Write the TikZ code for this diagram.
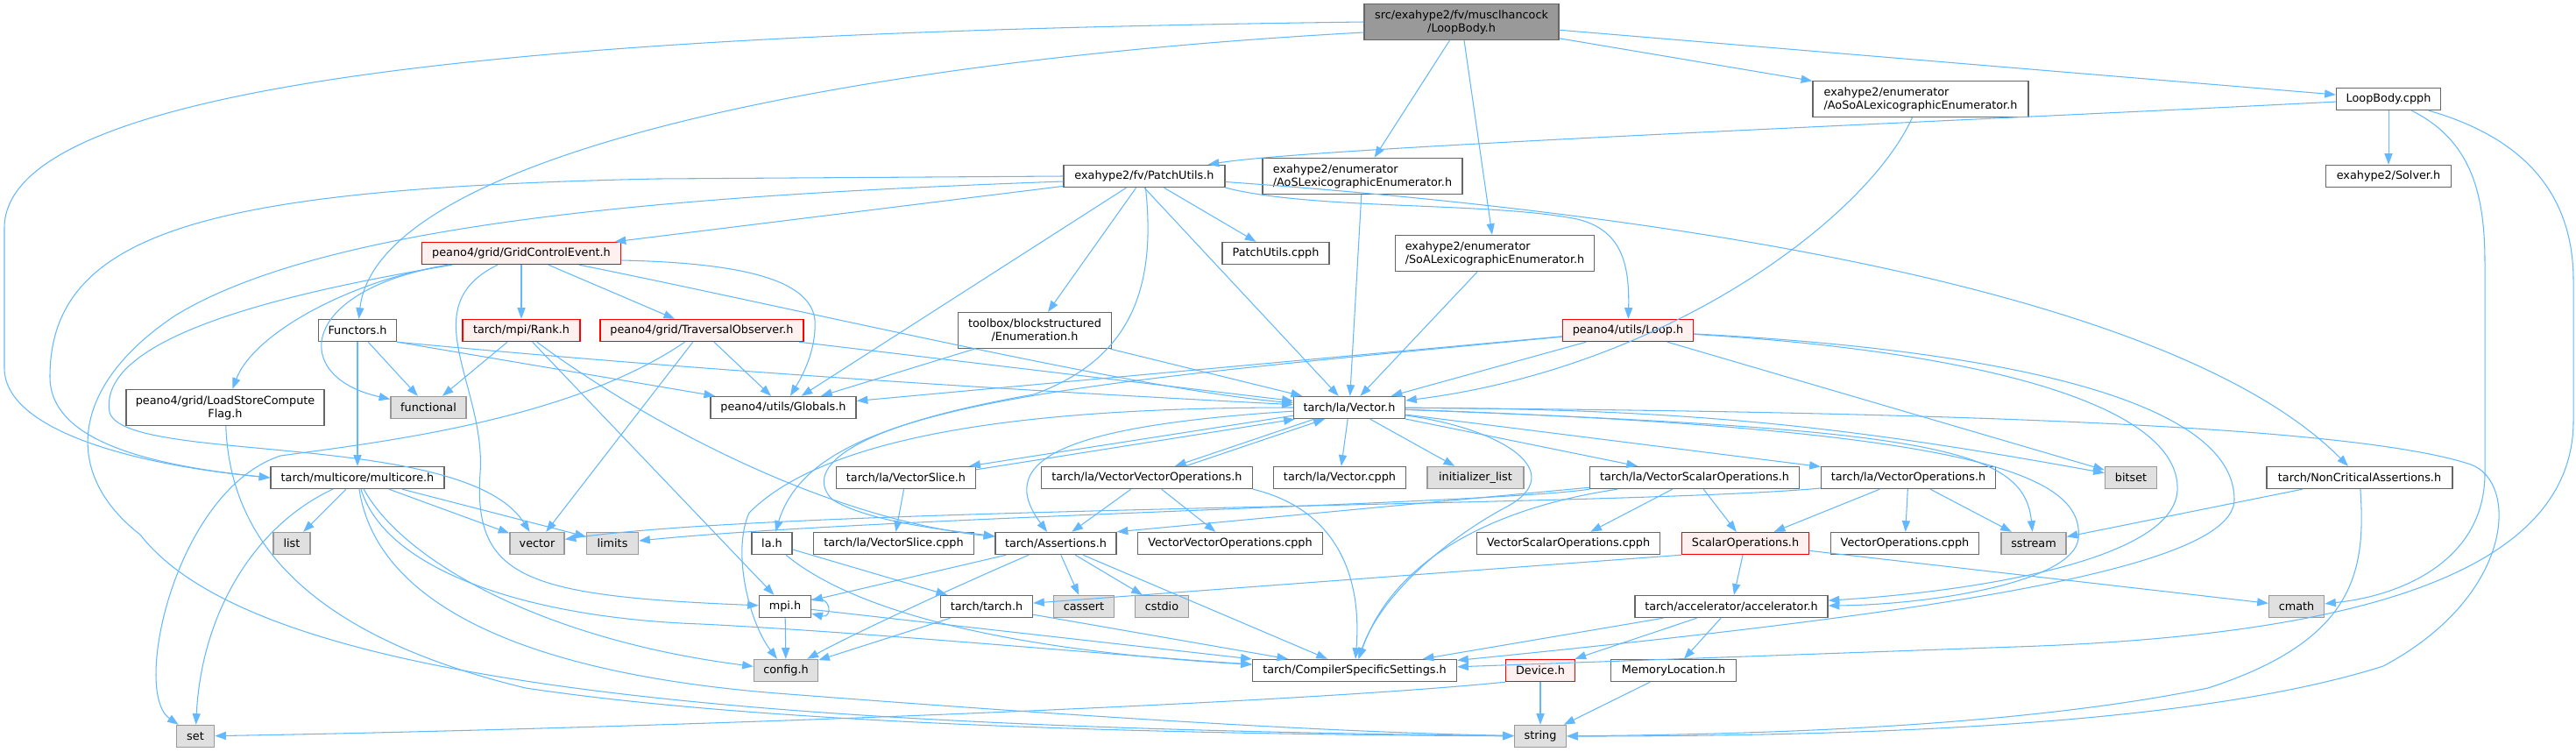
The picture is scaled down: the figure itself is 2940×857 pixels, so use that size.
\documentclass[tikz,border=0pt]{standalone}
\usepackage{fontspec}
\newfontfamily\nodefont{DejaVu Sans}
\usetikzlibrary{arrows.meta}
\definecolor{edgec}{HTML}{63B8FF}
\definecolor{bordc}{HTML}{666666}
\definecolor{extfill}{HTML}{E0E0E0}
\definecolor{extbord}{HTML}{999999}
\definecolor{redfill}{HTML}{FFF0F0}
\definecolor{redbord}{HTML}{FF0000}
\definecolor{rootfill}{HTML}{999999}
\begin{document}
\begin{tikzpicture}[x=0.025cm, y=-0.025cm,
  nbox/.style={draw=bordc, fill=white, line width=1pt, inner sep=0pt, align=center,
    font=\nodefont\fontsize{9.1pt}{10.7pt}\selectfont, minimum height=0.625cm, text=black},
  gbox/.style={nbox, fill=extfill, draw=extbord},
  rbox/.style={nbox, fill=redfill, draw=redbord},
  tall/.style={minimum height=1.025cm},
  wd/.style={minimum width=#1*0.025cm},
  edg/.style={draw=edgec, line width=0.75pt, -{Triangle[length=9pt,width=6.5pt]}}]
\useasboundingbox (0,0) rectangle (2940,857);
% ---------------- nodes ----------------
\node[nbox, wd=222, tall, fill=rootfill] (lb) at (1668,25) {src/exahype2/fv/musclhancock\\/LoopBody.h};
\node[nbox, wd=246, tall, align=left] (aosoa) at (2192,113) {exahype2/enumerator\\/AoSoALexicographicEnumerator.h};
\node[nbox, wd=119] (cpph) at (2726,113) {LoopBody.cpph};
\node[nbox, wd=184] (pu) at (1306,201) {exahype2/fv/PatchUtils.h};
\node[nbox, wd=228, tall, align=left] (aos) at (1555,201) {exahype2/enumerator\\/AoSLexicographicEnumerator.h};
\node[nbox, wd=143] (solver) at (2726,201) {exahype2/Solver.h};
\node[rbox, wd=227] (gce) at (595,289) {peano4/grid/GridControlEvent.h};
\node[nbox, wd=122] (puc) at (1456,289) {PatchUtils.cpph};
\node[nbox, wd=227, tall, align=left] (soa) at (1706,289) {exahype2/enumerator\\/SoALexicographicEnumerator.h};
\node[nbox, wd=89] (func) at (408,377) {Functors.h};
\node[rbox, wd=134] (rank) at (595,377) {tarch/mpi/Rank.h};
\node[rbox, wd=232] (trav) at (801,377) {peano4/grid/TraversalObserver.h};
\node[nbox, wd=175, tall] (enumh) at (1181,377) {toolbox/blockstructured\\/Enumeration.h};
\node[rbox, wd=149] (loop) at (1858,377) {peano4/utils/Loop.h};
\node[nbox, wd=226, tall] (lsc) at (257,465) {peano4/grid/LoadStoreCompute\\Flag.h};
\node[gbox, wd=86] (functional) at (489,465) {functional};
\node[nbox, wd=166] (glob) at (894,465) {peano4/utils/Globals.h};
\node[nbox, wd=127] (vec) at (1540,465) {tarch/la/Vector.h};
\node[nbox, wd=198] (mc) at (408,545) {tarch/multicore/multicore.h};
\node[nbox, wd=159] (vsl) at (1034,545) {tarch/la/VectorSlice.h};
\node[nbox, wd=241] (vvo) at (1309,545) {tarch/la/VectorVectorOperations.h};
\node[nbox, wd=151] (vcpph) at (1529,545) {tarch/la/Vector.cpph};
\node[gbox, wd=110] (initl) at (1684,545) {initializer\_list};
\node[nbox, wd=239] (vso) at (1934,545) {tarch/la/VectorScalarOperations.h};
\node[nbox, wd=199] (vo) at (2178,545) {tarch/la/VectorOperations.h};
\node[gbox, wd=59] (bitset) at (2432,545) {bitset};
\node[nbox, wd=212] (nca) at (2693,545) {tarch/NonCriticalAssertions.h};
\node[gbox, wd=42] (list) at (333,620) {list};
\node[gbox, wd=62] (vector) at (613,620) {vector};
\node[gbox, wd=59] (limits) at (699,620) {limits};
\node[nbox, wd=46] (lah) at (881,620) {la.h};
\node[nbox, wd=183] (vslc) at (1020,620) {tarch/la/VectorSlice.cpph};
\node[nbox, wd=138] (assert) at (1205,620) {tarch/Assertions.h};
\node[nbox, wd=211] (vvoc) at (1404,620) {VectorVectorOperations.cpph};
\node[nbox, wd=209] (vsoc) at (1790,620) {VectorScalarOperations.cpph};
\node[rbox, wd=145] (scal) at (1992,620) {ScalarOperations.h};
\node[nbox, wd=169] (voc) at (2174,620) {VectorOperations.cpph};
\node[gbox, wd=74] (sstream) at (2321,620) {sstream};
\node[nbox, wd=59] (mpi) at (896,692) {mpi.h};
\node[nbox, wd=105] (tarchh) at (1126,692) {tarch/tarch.h};
\node[gbox, wd=69] (cassert) at (1237,692) {cassert};
\node[gbox, wd=61] (cstdio) at (1326,692) {cstdio};
\node[nbox, wd=220] (accel) at (1976,692) {tarch/accelerator/accelerator.h};
\node[gbox, wd=63] (cmath) at (2621,692) {cmath};
\node[gbox, wd=73] (config) at (897,765) {config.h};
\node[nbox, wd=233] (css) at (1546,765) {tarch/CompilerSpecificSettings.h};
\node[rbox, wd=79] (device) at (1758,765) {Device.h};
\node[nbox, wd=143] (memloc) at (1910,765) {MemoryLocation.h};
\node[gbox, wd=43] (set) at (223,840) {set};
\node[gbox, wd=59] (string) at (1758,840) {string};
% ---------------- edges ----------------
% LoopBody.h
\draw[edg] (lb.west) .. controls (800,35) and (5,70) .. (5,260) -- (5,420) .. controls (5,490) and (150,530) .. (mc.west);
\draw[edg] ([yshift=-0.3cm]lb.west) .. controls (950,70) and (430,180) .. (func);
\draw[edg] (lb) -- (aos);
\draw[edg] (lb) -- (soa);
\draw[edg] (lb) -- (aosoa);
\draw[edg] (lb) -- (cpph);
% LoopBody.cpph
\draw[edg] (cpph) .. controls (2200,140) and (1500,168) .. ([xshift=-0.5cm]pu.north east);
\draw[edg] (cpph) -- (solver);
\draw[edg] (cpph) .. controls (2820,160) and (2836,220) .. (2836,300) -- (2836,540) .. controls (2836,640) and (2740,680) .. (cmath);
\draw[edg] (cpph) .. controls (2890,160) and (2937,230) .. (2937,320) -- (2937,480) .. controls (2937,650) and (2700,725) .. (2300,738) -- (css);
% enumerators
\draw[edg] (aosoa) .. controls (2130,250) and (1900,420) .. (vec);
\draw[edg] (aos) -- (vec);
\draw[edg] (soa) -- (vec);
% PatchUtils.h
\draw[edg] (pu.west) -- (750,204) .. controls (250,215) and (57,260) .. (57,430) .. controls (57,500) and (160,530) .. (mc.west);
\draw[edg] ([yshift=-0.15cm]pu.west) .. controls (800,222) and (380,250) .. (200,360) .. controls (80,440) and (70,540) .. (160,610) .. controls (300,790) and (900,830) .. (string);
\draw[edg] (pu) -- (gce);
\draw[edg] (pu.south) -- (vec);
\draw[edg] (pu) -- (puc);
\draw[edg] (pu) -- (enumh);
\draw[edg] (pu) -- (glob);
\draw[edg] (pu.south east) .. controls (1500,240) and (1700,230) .. (1800,250) .. controls (1850,262) and (1860,300) .. (loop);
\draw[edg] (pu) .. controls (2000,250) and (2500,350) .. (nca);
\draw[edg] (pu) .. controls (1320,330) and (1290,410) .. (1180,450) .. controls (950,490) and (920,540) .. (950,570) .. controls (990,595) and (1080,605) .. (assert);
% GridControlEvent.h
\draw[edg] (gce) .. controls (400,320) and (290,380) .. (lsc);
\draw[edg] (gce) .. controls (340,330) and (330,430) .. (functional);
\draw[edg] (gce) .. controls (350,330) and (110,380) .. (125,470) .. controls (140,530) and (530,490) .. (vector);
\draw[edg] (gce) -- (rank);
\draw[edg] (gce) -- (trav);
\draw[edg] ([yshift=-0.2cm]gce.east) .. controls (850,300) and (925,320) .. (930,365) .. controls (932,400) and (915,430) .. (glob);
\draw[edg] (gce) .. controls (900,350) and (1300,445) .. (vec);
\draw[edg] (gce) .. controls (470,350) and (555,440) .. (548,540) .. controls (540,660) and (600,680) .. (mpi);
% Functors.h
\draw[edg] (func) -- (mc);
\draw[edg] (func) -- (functional);
\draw[edg] (func.south east) -- (glob);
\draw[edg] (func.south east) .. controls (850,428) and (1250,450) .. (vec);
% Rank.h
\draw[edg] (rank) -- (functional);
\draw[edg] (rank) -- (mpi);
\draw[edg] (rank) .. controls (720,470) and (930,590) .. (assert);
% TraversalObserver.h
\draw[edg] (trav) .. controls (650,480) and (430,505) .. (320,520) .. controls (200,560) and (150,790) .. (set);
\draw[edg] (trav) -- (vector);
\draw[edg] (trav) -- (glob);
\draw[edg] (trav) -- (vec);
% Enumeration.h
\draw[edg] (enumh) -- (glob);
\draw[edg] (enumh) -- (vec);
% Loop.h
\draw[edg] (loop) -- (glob);
\draw[edg] (loop) .. controls (1200,440) and (930,460) .. (lah);
\draw[edg] (loop) -- (vec);
\draw[edg] (loop) -- (bitset);
\draw[edg] (loop) .. controls (2300,400) and (2550,460) .. (2550,570) .. controls (2550,650) and (2200,700) .. (css);
\draw[edg] (loop) .. controls (2250,400) and (2490,460) .. (2485,560) .. controls (2480,640) and (2250,675) .. (accel);
% Vector.h
\draw[edg] ([yshift=0.1cm]vec.south west) -- ([xshift=-0.2cm]vsl.north east);
\draw[edg] ([yshift=-0.1cm]vsl.north east) -- ([xshift=0.05cm]vec.south west);
\draw[edg] ([xshift=0.6cm]vec.south west) -- ([xshift=0.8cm]vvo.north);
\draw[edg] ([xshift=1.1cm]vvo.north) -- ([xshift=0.9cm]vec.south west);
\draw[edg] (vec) -- (vcpph);
\draw[edg] (vec) -- (initl);
\draw[edg] (vec) -- (vso);
\draw[edg] (vec) -- (vo);
\draw[edg] (vec) to[bend left=5] (bitset);
\draw[edg] (vec) .. controls (2200,490) and (2310,510) .. (sstream);
\draw[edg] (vec) .. controls (2300,470) and (2700,490) .. (2820,530) .. controls (2875,550) and (2870,680) .. (2720,760) .. controls (2500,830) and (2100,840) .. (string);
\draw[edg] (vec) .. controls (2250,490) and (2380,540) .. (2372,615) .. controls (2365,665) and (2200,690) .. (accel);
\draw[edg] (vec) .. controls (1720,490) and (1790,540) .. (1720,578) .. controls (1650,615) and (1575,680) .. (css);
\draw[edg] (vec) .. controls (1200,465) and (950,490) .. (855,585) .. controls (835,630) and (855,710) .. (config);
\draw[edg] (vec) .. controls (1230,485) and (1130,520) .. (assert);
% VectorSlice.h
\draw[edg] (vsl) -- (vslc);
% VectorVectorOperations.h
\draw[edg] (vvo) -- (assert);
\draw[edg] (vvo) -- (vvoc);
\draw[edg] (vvo.south east) .. controls (1520,580) and (1555,650) .. (css);
% VectorScalarOperations.h
\draw[edg] (vso) -- (assert.north east);
\draw[edg] (vso.south west) .. controls (1700,575) and (1000,590) .. (limits);
\draw[edg] (vso) -- (vsoc);
\draw[edg] (vso) -- (scal);
\draw[edg] (vso) .. controls (1700,580) and (1590,640) .. (css);
% VectorOperations.h
\draw[edg] (vo) -- (scal);
\draw[edg] (vo) -- (voc);
\draw[edg] (vo) -- (sstream);
\draw[edg] ([yshift=-0.3cm]vo.west) .. controls (1850,578) and (900,578) .. (vector);
% la.h
\draw[edg] (lah) -- (tarchh);
\draw[edg] (lah) .. controls (990,710) and (1200,745) .. (css);
% Assertions.h
\draw[edg] (assert) -- (mpi);
\draw[edg] (assert) .. controls (1100,665) and (980,720) .. (config);
\draw[edg] (assert) -- (cassert);
\draw[edg] (assert) -- (cstdio);
\draw[edg] (assert) -- (css);
% mpi.h
\draw[edg] ([yshift=0.2cm]mpi.east) .. controls +(0.6cm,0.15cm) and +(0.6cm,-0.15cm) .. ([yshift=-0.2cm]mpi.east);
\draw[edg] (mpi) -- (config);
\draw[edg] (mpi) -- (css);
% tarch.h
\draw[edg] (tarchh) -- (config);
\draw[edg] (tarchh) -- (css);
% ScalarOperations.h
\draw[edg] (scal) -- (accel);
\draw[edg] (scal.south west) -- (tarchh);
\draw[edg] (scal) -- (cmath);
% accelerator.h
\draw[edg] (accel) -- (css);
\draw[edg] (accel) -- (device);
\draw[edg] (accel) -- (memloc);
% Device.h, MemoryLocation.h
\draw[edg] (device) -- (string);
\draw[edg] (device.south west) .. controls (1450,805) and (700,832) .. (set);
\draw[edg] (memloc) -- (string);
% NonCriticalAssertions.h
\draw[edg] (nca) -- (sstream);
\draw[edg] (nca) .. controls (2700,650) and (2690,730) .. (2520,785) .. controls (2300,830) and (2000,838) .. (string);
% multicore.h
\draw[edg] (mc) .. controls (290,600) and (230,700) .. (set);
\draw[edg] (mc) -- (list);
\draw[edg] (mc) -- (vector);
\draw[edg] (mc) -- (limits);
\draw[edg] (mc) .. controls (440,650) and (600,705) .. (800,712) .. controls (1000,722) and (1300,750) .. (css);
\draw[edg] (mc) .. controls (460,640) and (620,730) .. (config);
\draw[edg] (mc) .. controls (430,690) and (600,770) .. (900,792) .. controls (1200,815) and (1500,835) .. (string);
% LoadStoreComputeFlag.h
\draw[edg] (lsc) .. controls (262,600) and (330,720) .. (600,785) .. controls (900,830) and (1400,838) .. (string);
\end{tikzpicture}
\end{document}
